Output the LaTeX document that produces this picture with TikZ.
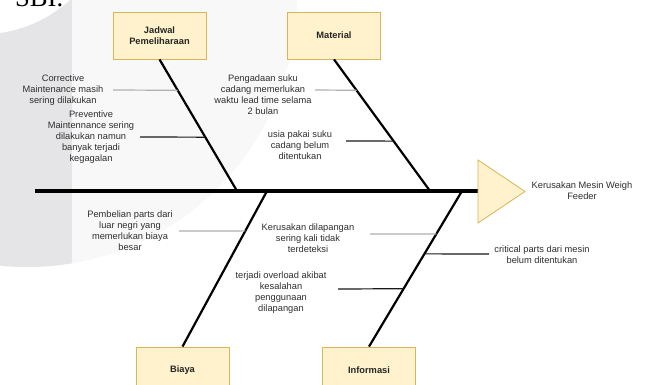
\documentclass[tikz,border=0pt]{standalone}
\usepackage{fontspec}
\setmainfont{Liberation Sans}
\newfontfamily\serifx{Liberation Serif}
\definecolor{boxfill}{HTML}{FFF2CC}
\definecolor{boxline}{HTML}{D6B656}
\definecolor{txt}{HTML}{2E2E2E}
\definecolor{gline}{HTML}{B0B0B0}
\definecolor{dline}{HTML}{1A1A1A}
\definecolor{bgl}{HTML}{F8F8F8}
\definecolor{bgd}{HTML}{E5E5E8}
\tikzset{
  catbox/.style={draw=boxline, fill=boxfill, line width=0.8pt, minimum width=93pt, minimum height=47pt,
    font=\bfseries\fontsize{9.3}{11}\selectfont, align=center, text=black!85, inner sep=2pt},
  lbl/.style={font=\fontsize{9.3}{11}\selectfont, align=center, text=txt, inner sep=0pt},
  bone/.style={line width=2.2pt, black},
  spine/.style={line width=4.5pt, black},
  subg/.style={line width=1.2pt, draw=gline},
  subd/.style={line width=1.2pt, draw=dline}
}
\begin{document}
\begin{tikzpicture}[x=1pt,y=-1pt]
\clip (0,0) rectangle (646,385);
% background (page behind the diagram)
\fill[white] (0,0) rectangle (646,385);
\fill[bgl] (27,-3) circle (270pt);
\begin{scope}
  \clip (27,-3) circle (270pt);
  \fill[bgd] (0,0) rectangle (72,385);
\end{scope}
\fill[white] (-20,-100) circle (134.5pt);
\node[anchor=base west, inner sep=0pt, font=\serifx\fontsize{26.6}{30}\selectfont] (sbi) at (15,7) {SBI.};

% category boxes
\node[catbox] (jad) at (159.5,35.5) {Jadwal\\Pemeliharaan};
\node[catbox] (mat) at (334,35.5) {Material};
\node[catbox] (bia) at (182.5,370.5) {Biaya};
\node[catbox] (inf) at (369,370.5) {Informasi};

% spine and head
\coordinate (tail) at (35,191);
\coordinate (hw) at (478,191);
\coordinate (jS) at (237,191);
\coordinate (mS) at (430,191);
\coordinate (bS) at (267,191);
\coordinate (iS) at (462,191);
\draw[spine] (tail) -- (hw);
\draw[draw=boxline, fill=boxfill, line width=0.8pt] (478,160) -- (525,191.5) -- (478,223) -- cycle;
\node[lbl] (head) at (582,191) {Kerusakan Mesin Weigh\\Feeder};

% bones
\draw[bone] (jad.south) -- (jS) coordinate[pos=0.2348] (j1) coordinate[pos=0.591] (j2);
\path (jad.south) -- (jS) coordinate[pos=0.2348] (j1) coordinate[pos=0.591] (j2);
\path (mat.south) -- (mS) coordinate[pos=0.2348] (m1) coordinate[pos=0.621] (m2);
\draw[bone] (mat.south) -- (mS);
\path (bia.north) -- (bS) coordinate[pos=0.7436] (b1);
\draw[bone] (bia.north) -- (bS);
\path (inf.north) -- (iS) coordinate[pos=0.724] (i1) coordinate[pos=0.596] (i2) coordinate[pos=0.372] (i3);
\draw[bone] (inf.north) -- (iS);

% causes
\node[lbl] (c1) at (63,90) {Corrective\\Maintenance masih\\sering dilakukan};
\coordinate (c1e) at (113,90);
\draw[subg] (c1e) -- (j1);

\node[lbl] (c2) at (91,137) {Preventive\\Maintennance sering\\dilakukan namun\\banyak terjadi\\kegagalan};
\coordinate (c2e) at (140,137);
\draw[subd] (c2e) -- (j2);

\node[lbl] (c3) at (263,94.5) {Pengadaan suku\\cadang memerlukan\\waktu lead time selama\\2 bulan};
\coordinate (c3e) at (315,90);
\draw[subg] (c3e) -- (m1);

\node[lbl] (c4) at (300,145) {usia pakai suku\\cadang belum\\ditentukan};
\coordinate (c4e) at (346,141);
\draw[subd] (c4e) -- (m2);

\node[lbl] (c5) at (130,230.5) {Pembelian parts dari\\luar negri yang\\memerlukan biaya\\besar};
\coordinate (c5e) at (179,231);
\draw[subg] (c5e) -- (b1);

\node[lbl] (c6) at (308,238) {Kerusakan dilapangan\\sering kali tidak\\terdeteksi};
\coordinate (c6e) at (370,234);
\draw[subg] (c6e) -- (i1);

\node[lbl] (c7) at (281,293) {terjadi overload akibat\\kesalahan\\penggunaan\\dilapangan};
\coordinate (c7e) at (338,289);
\draw[subd] (c7e) -- (i3);

\node[lbl] (c8) at (542,254.5) {critical parts dari mesin\\belum ditentukan};
\coordinate (c8e) at (489,254);
\draw[subd] (i2) -- (c8e);
\end{tikzpicture}
\end{document}
